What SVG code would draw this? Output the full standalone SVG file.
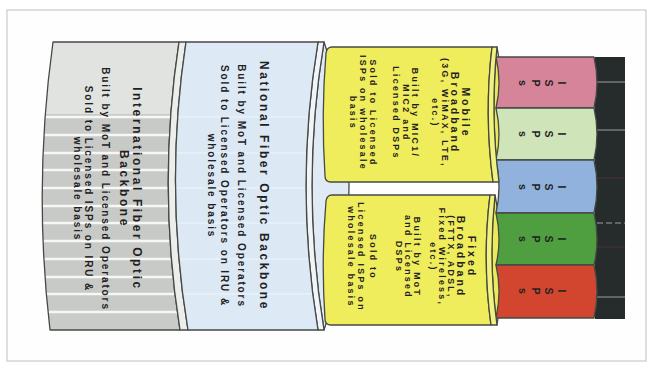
<svg xmlns="http://www.w3.org/2000/svg" width="651" height="370" viewBox="0 0 651 370">
<style>
text{font-family:"Liberation Sans",Arial,sans-serif;font-weight:bold;fill:#1f211f;text-anchor:middle;dominant-baseline:central}
.t12{font-size:12px;letter-spacing:2.6px}
.b10{font-size:10px;letter-spacing:1.9px}
.t11{font-size:10.5px;letter-spacing:3px}
.y10{font-size:8.8px;letter-spacing:2.3px}
.isp{font-size:10.5px}
.ol{stroke:#454a44;stroke-width:1.3;stroke-linejoin:round}
.stripe{stroke:#ffffff;stroke-width:2.4;opacity:0.85}
.bl{stroke:#cfd3d0;stroke-width:1;opacity:0.7}
</style>
<defs>
<clipPath id="cIntl"><path d="M53,42 L179,42 Q157,186 180,330 L50,330 Q33,186 53,42 Z"/></clipPath>
<clipPath id="cNat"><path d="M186,42 L318,42 Q294,186 318,330 L188,330 Q164,186 186,42 Z"/></clipPath>
</defs>
<rect x="0" y="0" width="651" height="370" fill="#ffffff"/>
<rect x="7" y="10" width="639" height="351" fill="#fefefe" stroke="#c9cbc9" stroke-width="1.2"/>

<g id="intl">
<g clip-path="url(#cIntl)">
<rect x="30" y="40" width="160" height="295" fill="#c8cbc7"/>
<rect x="30" y="40" width="160" height="74" fill="#e1e3e0"/>
<g class="stripe">
<line x1="30" y1="117" x2="190" y2="117"/><line x1="30" y1="135" x2="190" y2="135"/>
<line x1="30" y1="153" x2="190" y2="153"/><line x1="30" y1="170" x2="190" y2="170"/>
<line x1="30" y1="188" x2="190" y2="188"/><line x1="30" y1="206" x2="190" y2="206"/>
<line x1="30" y1="223" x2="190" y2="223"/><line x1="30" y1="241" x2="190" y2="241"/>
<line x1="30" y1="259" x2="190" y2="259"/><line x1="30" y1="277" x2="190" y2="277"/>
<line x1="30" y1="294" x2="190" y2="294"/><line x1="30" y1="312" x2="190" y2="312"/>
</g>
</g>
<path class="ol" fill="none" d="M53,42 L179,42 Q157,186 180,330 L50,330 Q33,186 53,42 Z"/>
<path class="ol" fill="#eceeec" d="M179,42 L186,42 Q164,186 188,330 L180,330 Q157,186 179,42 Z"/>
<text class="t12" transform="translate(137,189) rotate(90)">International Fiber Optic</text>
<text class="t12" transform="translate(124,189) rotate(90)">Backbone</text>
<text class="b10" transform="translate(105,189) rotate(90)">Built by MoT and Licensed Operators</text>
<text class="b10" transform="translate(88,189) rotate(90)">Sold to Licensed ISPs on IRU &amp;</text>
<text class="b10" transform="translate(77,189) rotate(90)">wholesale basis</text>
</g>

<g id="national">
<path class="ol" fill="#dfeaf4" d="M324,42 Q374,186 324,330 Q300,186 324,42 Z"/>
<path class="ol" fill="#f1f5f9" d="M318,42 L324,42 Q300,186 324,330 L318,330 Q294,186 318,42 Z"/>
<g clip-path="url(#cNat)">
<rect x="160" y="40" width="170" height="295" fill="#dde9f4"/>
<g stroke="#f4f8fc" stroke-width="1.2" opacity="0.8">
<line x1="160" y1="117" x2="330" y2="117"/><line x1="160" y1="153" x2="330" y2="153"/>
<line x1="160" y1="188" x2="330" y2="188"/><line x1="160" y1="223" x2="330" y2="223"/>
<line x1="160" y1="259" x2="330" y2="259"/><line x1="160" y1="294" x2="330" y2="294"/>
</g>
</g>
<path class="ol" fill="none" d="M186,42 L318,42 Q294,186 318,330 L188,330 Q164,186 186,42 Z"/>
<text class="t12" transform="translate(264,186) rotate(90)">National Fiber Optic Backbone</text>
<text class="b10" transform="translate(241,186) rotate(90)">Built by MoT and Licensed Operators</text>
<text class="b10" transform="translate(224,186) rotate(90)">Sold to Licensed Operators on IRU &amp;</text>
<text class="b10" transform="translate(211,186) rotate(90)">wholesale basis</text>
</g>

<g id="cable-end">
<rect x="595" y="57" width="30" height="262" fill="#262b2b"/>
<g class="bl">
<line x1="597" y1="82" x2="625" y2="82"/><line x1="597" y1="130" x2="625" y2="130"/>
<line x1="597" y1="223" x2="625" y2="223" stroke-dasharray="6 3"/><line x1="597" y1="297" x2="625" y2="297"/>
</g>
<g stroke="#7a3a3a" stroke-width="0.8" opacity="0.6">
<line x1="597" y1="178" x2="625" y2="178"/><line x1="597" y1="247" x2="625" y2="247"/>
</g>
</g>

<g id="mobile-face"><path class="ol" fill="#ecea5a" d="M497,47 Q510,114 499,182 Q490,114 497,47 Z"/></g>
<g id="fixed-face"><path class="ol" fill="#ecea5a" d="M495,195 Q508,260 497,325 Q488,260 495,195 Z"/></g>

<g id="isp1">
<path class="ol" fill="#d6849a" d="M496,57 L594,57 Q600,83 594,108 L496,108 Q502,83 496,57 Z"/>
<text class="isp" transform="translate(562,83) rotate(90)">I</text>
<text class="isp" transform="translate(549,83) rotate(90)">S</text>
<text class="isp" transform="translate(536,83) rotate(90)">P</text>
<text class="isp" transform="translate(523,83) rotate(90)">s</text>
</g>
<g id="isp2">
<path class="ol" fill="#cfe5b9" d="M496,108 L594,108 Q600,134 594,160 L496,160 Q502,134 496,108 Z"/>
<text class="isp" transform="translate(562,134) rotate(90)">I</text>
<text class="isp" transform="translate(549,134) rotate(90)">S</text>
<text class="isp" transform="translate(536,134) rotate(90)">P</text>
<text class="isp" transform="translate(523,134) rotate(90)">s</text>
</g>
<g id="isp3">
<path class="ol" fill="#90b2dc" d="M496,160 L594,160 Q600,187 594,213 L496,213 Q502,187 496,160 Z"/>
<text class="isp" transform="translate(562,187) rotate(90)">I</text>
<text class="isp" transform="translate(549,187) rotate(90)">S</text>
<text class="isp" transform="translate(536,187) rotate(90)">P</text>
<text class="isp" transform="translate(523,187) rotate(90)">s</text>
</g>
<g id="isp4">
<path class="ol" fill="#4f9e40" d="M496,213 L594,213 Q600,239 594,265 L496,265 Q502,239 496,213 Z"/>
<text class="isp" transform="translate(562,239) rotate(90)">I</text>
<text class="isp" transform="translate(549,239) rotate(90)">S</text>
<text class="isp" transform="translate(536,239) rotate(90)">P</text>
<text class="isp" transform="translate(523,239) rotate(90)">s</text>
</g>
<g id="isp5">
<path class="ol" fill="#d2462f" d="M496,265 L594,265 Q600,291 594,318 L496,318 Q502,291 496,265 Z"/>
<text class="isp" transform="translate(562,291) rotate(90)">I</text>
<text class="isp" transform="translate(549,291) rotate(90)">S</text>
<text class="isp" transform="translate(536,291) rotate(90)">P</text>
<text class="isp" transform="translate(523,291) rotate(90)">s</text>
</g>

<g id="mobile">
<path class="ol" fill="#efed5c" d="M332,47 L492,47 Q484,114 493,182 L331,182 Q325,182 325,176 Q321,114 326,53 Q327,47 332,47 Z"/>
<path class="ol" fill="#f4f27e" d="M492,47 L497,47 Q490,114 499,182 L493,182 Q484,114 492,47 Z"/>
<text class="t11" transform="translate(466,113) rotate(90)">Mobile</text>
<text class="t11" transform="translate(455,113) rotate(90)">Broadband</text>
<text class="y10" transform="translate(445,113) rotate(90)">(3G, WiMAX, LTE,</text>
<text class="y10" transform="translate(435,113) rotate(90)">etc.)</text>
<text class="y10" transform="translate(415,113) rotate(90)">Built by MIC1/</text>
<text class="y10" transform="translate(406,113) rotate(90)">MIC2 and</text>
<text class="y10" transform="translate(396,113) rotate(90)">Licensed DSPs</text>
<text class="y10" transform="translate(373,113) rotate(90)">Sold to Licensed</text>
<text class="y10" transform="translate(363,113) rotate(90)">ISPs on wholesale</text>
<text class="y10" transform="translate(353,113) rotate(90)">basis</text>
</g>

<g id="fixed">
<path class="ol" fill="#efed5c" d="M332,195 L490,195 Q482,260 491,325 L331,325 Q325,325 325,319 Q321,260 326,201 Q327,195 332,195 Z"/>
<path class="ol" fill="#f4f27e" d="M490,195 L495,195 Q488,260 497,325 L491,325 Q482,260 490,195 Z"/>
<text class="t11" transform="translate(472,257) rotate(90)">Fixed</text>
<text class="t11" transform="translate(461,257) rotate(90)">Broadband</text>
<text class="y10" transform="translate(451,257) rotate(90)">(FTTX, ADSL,</text>
<text class="y10" transform="translate(442,257) rotate(90)">Fixed Wireless,</text>
<text class="y10" transform="translate(433,257) rotate(90)">etc.)</text>
<text class="y10" transform="translate(417,257) rotate(90)">Built by MoT</text>
<text class="y10" transform="translate(408,257) rotate(90)">and Licensed</text>
<text class="y10" transform="translate(399,257) rotate(90)">DSPs</text>
<text class="y10" transform="translate(373,257) rotate(90)">Sold to</text>
<text class="y10" transform="translate(361,257) rotate(90)">Licensed ISPs on</text>
<text class="y10" transform="translate(351,257) rotate(90)">wholesale basis</text>
</g>

<g id="connectors"></g>
</svg>
